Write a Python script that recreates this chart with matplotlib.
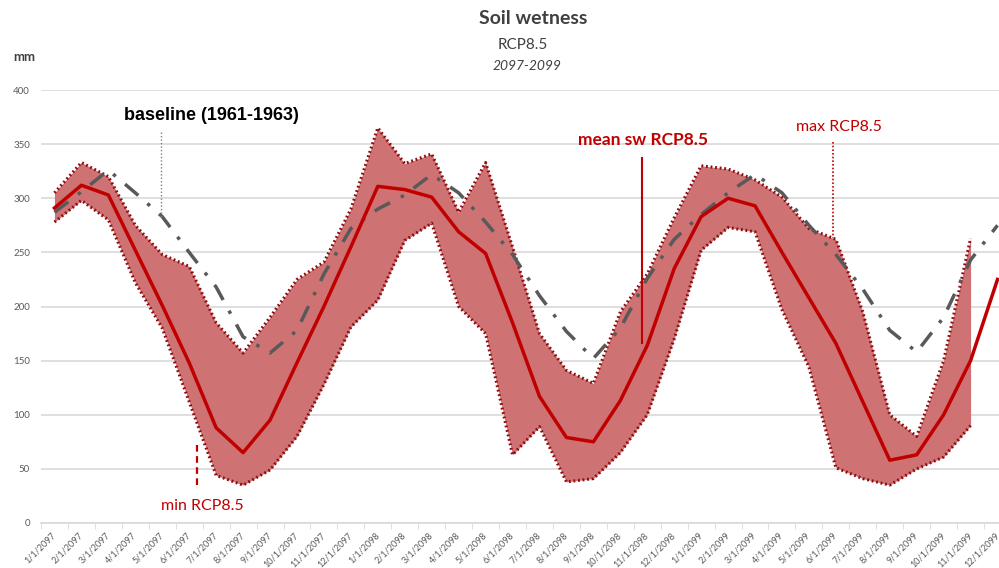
import matplotlib.pyplot as plt
import matplotlib.transforms as mtransforms
import numpy as np

# monthly soil wetness (mm), Jan 2097 .. Dec 2099
months = [f'{m}/1/{y}' for y in (2097, 2098, 2099) for m in range(1, 13)]

mean_rcp85 = [
    291, 312, 303, 252, 201, 148, 88, 65, 95, 148, 200, 255,
    311, 308, 301, 269, 249, 185, 117, 79, 75, 113, 164, 235,
    283, 300, 293, 250, 208, 166, 112, 58, 63, 100, 150, 225,
]
max_rcp85 = [
    305, 333, 320, 275, 248, 237, 185, 157, 190, 225, 241, 290,
    365, 332, 341, 287, 333, 255, 175, 141, 129, 195, 230, 282,
    330, 327, 317, 301, 272, 262, 195, 100, 80, 150, 263,
]
min_rcp85 = [
    278, 298, 280, 222, 180, 112, 44, 35, 49, 80, 128, 181,
    206, 261, 277, 200, 175, 63, 89, 38, 41, 65, 100, 170,
    252, 273, 269, 197, 144, 51, 41, 35, 50, 61, 90,
]
baseline = [
    287, 306, 326, 305, 283, 250, 218, 172, 157, 178, 230, 272,
    290, 303, 322, 305, 278, 248, 210, 177, 152, 180, 226, 262,
    285, 305, 322, 305, 275, 248, 216, 178, 158, 190, 243, 275,
]

red = '#c00000'
dark_red = '#8e0b10'
band = '#cf7273'
grey = '#595959'

plt.rcParams['font.family'] = ['Lato', 'DejaVu Sans']

fig = plt.figure(figsize=(9.99, 5.68), dpi=100)
ax = fig.add_axes([41 / 999, 1 - 523 / 568, 970 / 999, 433 / 568])

x = np.arange(len(months))
xb = np.arange(len(max_rcp85))

dots = (0, (0.6, 0.9))
ax.fill_between(xb, min_rcp85, max_rcp85, color=band, lw=0, zorder=2)
ax.plot(xb, max_rcp85, color=dark_red, lw=2.2, ls=dots, zorder=3)
ax.plot(xb, min_rcp85, color=dark_red, lw=2.2, ls=dots, zorder=3)
ax.plot(x, baseline, color=grey, lw=2.5, ls=(0, (5, 3.5, 1, 3.5)), zorder=4)
ax.plot(x, mean_rcp85, color=red, lw=2.5, zorder=5)

ax.set_ylim(0, 400)
ax.set_yticks(np.arange(0, 401, 50))
ax.set_xlim(-0.5, len(months) - 0.5)
ax.yaxis.grid(True, color='#d9d9d9', lw=1.2)
ax.set_axisbelow(True)
ax.tick_params(axis='y', length=0, labelsize=7, labelcolor='#595959', pad=8)

ax.set_xticks(x)
ax.set_xticklabels(months, rotation=45, ha='right', va='center',
                   rotation_mode='anchor', fontsize=6.5, color='#595959')
shift = mtransforms.ScaledTranslation(-4 / 100, 0, fig.dpi_scale_trans)
for lbl in ax.get_xticklabels():
    lbl.set_transform(lbl.get_transform() + shift)
ax.set_xticks(np.arange(len(months) + 1) - 0.5, minor=True)
ax.tick_params(axis='x', which='major', length=0, pad=8)
ax.tick_params(axis='x', which='minor', length=4, color='#d9d9d9')
for side in ('top', 'right', 'left'):
    ax.spines[side].set_visible(False)
ax.spines['bottom'].set_color('#d9d9d9')
ax.spines['bottom'].set_linewidth(1.2)

# titles
fig.text(533 / 999, 1 - 18 / 568, 'Soil wetness', ha='center', va='center',
         fontsize=14, fontweight='bold', color='#404040')
fig.text(523 / 999, 1 - 45 / 568, 'RCP8.5', ha='center', va='center',
         fontsize=11, color='#404040')
fig.text(527 / 999, 1 - 66 / 568, '2097-2099', ha='center', va='center',
         fontsize=10, style='italic', color='#404040')
fig.text(24 / 999, 1 - 57 / 568, 'mm', ha='center', va='center',
         fontsize=9.5, fontweight='bold', color='#404040')


# series call-outs
def px(xp, yp):
    return xp / 999, 1 - yp / 568


fig.text(*px(211, 115), 'baseline (1961-1963)', ha='center', va='center',
         fontsize=13, fontweight='bold', family=['Liberation Sans', 'DejaVu Sans'],
         color='black')
fig.add_artist(plt.Line2D([161 / 999] * 2, [1 - 132 / 568, 1 - 217 / 568],
                          color='#7f7f7f', lw=1, ls=(0, (1, 1.5))))

fig.text(*px(643, 140), 'mean sw RCP8.5', ha='center', va='center',
         fontsize=12.5, fontweight='bold', color=red)
fig.add_artist(plt.Line2D([642 / 999] * 2, [1 - 158 / 568, 1 - 343 / 568],
                          color=red, lw=1.5))

fig.text(*px(839, 127), 'max RCP8.5', ha='center', va='center',
         fontsize=11.5, color=red)
fig.add_artist(plt.Line2D([833 / 999] * 2, [1 - 142 / 568, 1 - 238 / 568],
                          color=red, lw=1.2, ls=(0, (1, 1.2))))

fig.text(*px(202, 506), 'min RCP8.5', ha='center', va='center',
         fontsize=11.5, color=red)
fig.add_artist(plt.Line2D([197 / 999] * 2, [1 - 445 / 568, 1 - 489 / 568],
                          color=red, lw=1.6, ls=(0, (3, 2))))

fig.savefig('out.png', dpi=100)
